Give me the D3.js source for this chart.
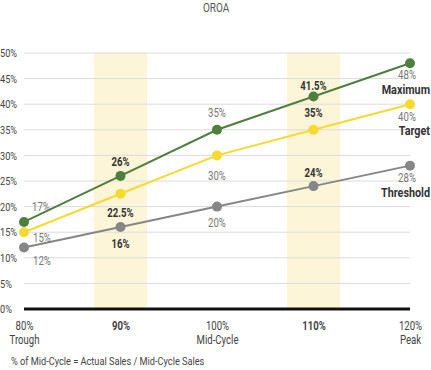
<!DOCTYPE html>
<html>
<head>
<meta charset="utf-8">
<script src="https://cdn.jsdelivr.net/npm/d3@7"></script>
<style>
  body { margin: 0; background: #fff; }
  svg text {
    font-family: "Roboto", sans-serif;
    transform-box: fill-box;
    transform: scaleX(0.8);
    transform-origin: center;
  }
  svg text.s { transform-origin: left center; }
  svg text.e { transform-origin: right center; }
</style>
</head>
<body>
<div id="chart"></div>
<script>
// Data
const categories = ["80%", "90%", "100%", "110%", "120%"];
const subLabels = ["Trough", "", "Mid-Cycle", "", "Peak"];
const highlighted = ["90%", "110%"];
const yTicks = [0, 5, 10, 15, 20, 25, 30, 35, 40, 45, 50];
const maximum = [17, 26, 35, 41.5, 48];
const target = [15, 22.5, 30, 35, 40];
const threshold = [12, 16, 20, 24, 28];
const seriesNames = ["Maximum", "Target", "Threshold"];

const chart = {
  margin: { top: 53, right: 21, bottom: 61, left: 24 },
  width: 431,
  height: 370
};
const innerW = chart.width - chart.margin.left - chart.margin.right;
const innerH = chart.height - chart.margin.top - chart.margin.bottom;

const svg = d3.select("#chart")
  .append("svg")
  .attr("width", chart.width)
  .attr("height", chart.height);

const g = svg.append("g")
  .attr("transform", "translate(" + chart.margin.left + "," + chart.margin.top + ")");

// Scales
const x = d3.scalePoint()
  .domain(categories)
  .range([0, innerW]);

const y = d3.scaleLinear()
  .domain([0, 50])
  .range([innerH, 0]);

// Title
svg.append("text")
  .attr("x", 216)
  .attr("y", 12)
  .attr("text-anchor", "middle")
  .attr("font-size", "12.5px")
  .attr("fill", "#555")
  .text("OROA");

// Highlight bands
g.selectAll(".band")
  .data(highlighted)
  .enter()
  .append("rect")
  .attr("class", "band")
  .attr("x", d => x(d) - 26.5)
  .attr("y", y(50))
  .attr("width", 53)
  .attr("height", innerH)
  .attr("fill", "#fcf5d7");

// Gridlines
g.selectAll(".grid")
  .data(yTicks.filter(d => d > 0))
  .enter()
  .append("line")
  .attr("class", "grid")
  .attr("x1", 0)
  .attr("x2", innerW)
  .attr("y1", d => y(d))
  .attr("y2", d => y(d))
  .attr("stroke", "#dcdcdc")
  .attr("stroke-width", 1);

// Y axis labels
const yAxis = g.append("g")
  .call(d3.axisLeft(y).tickValues(yTicks).tickFormat(d => d + "%").tickSize(0));
yAxis.select(".domain").remove();
yAxis.selectAll("text")
  .attr("class", "s")
  .attr("font-size", "11.5px")
  .attr("fill", "#444")
  .attr("font-family", null)
  .attr("text-anchor", "start")
  .attr("x", -24);

// Baseline
g.append("line")
  .attr("x1", 0)
  .attr("x2", innerW)
  .attr("y1", y(0))
  .attr("y2", y(0))
  .attr("stroke", "#111")
  .attr("stroke-width", 3);

// X axis labels
const xAxis = g.append("g")
  .attr("transform", "translate(0," + innerH + ")")
  .call(d3.axisBottom(x).tickSize(0).tickPadding(0));
xAxis.select(".domain").remove();
xAxis.selectAll("text")
  .attr("y", 21)
  .attr("dy", null)
  .attr("font-size", "12px")
  .attr("fill", "#444")
  .attr("font-family", null)
  .attr("font-weight", d => highlighted.includes(d) ? "bold" : "normal");
xAxis.selectAll(".tick")
  .append("text")
  .attr("y", 35)
  .attr("text-anchor", "middle")
  .attr("font-size", "12px")
  .attr("fill", "#444")
  .text((d, i) => subLabels[i]);

// Lines and points
const series = [
  { name: seriesNames[0], values: maximum, color: "#4e7f3f" },
  { name: seriesNames[1], values: target, color: "#f8d930" },
  { name: seriesNames[2], values: threshold, color: "#868686" }
];

const line = d3.line()
  .x((d, i) => x(categories[i]))
  .y(d => y(d));

series.forEach(s => {
  g.append("path")
    .datum(s.values)
    .attr("d", line)
    .attr("fill", "none")
    .attr("stroke", s.color)
    .attr("stroke-width", 2);

  g.selectAll(".pt-" + s.name)
    .data(s.values)
    .enter()
    .append("circle")
    .attr("cx", (d, i) => x(categories[i]))
    .attr("cy", d => y(d))
    .attr("r", 5)
    .attr("fill", s.color);
});

// Value label offsets (dx, baseline dy) per series and category
const labelPos = [
  [[17, -11], [0, -10], [0, -13], [0, -7], [-3, 16]],
  [[18, 10], [0, 23], [0, 25], [0, -13], [-3, 17]],
  [[18, 17.5], [0, 21], [0, 20], [0, -9], [-3, 16]]
];

series.forEach((s, si) => {
  g.selectAll(".lbl-" + s.name)
    .data(s.values)
    .enter()
    .append("text")
    .attr("x", (d, i) => x(categories[i]) + labelPos[si][i][0])
    .attr("y", (d, i) => y(d) + labelPos[si][i][1])
    .attr("text-anchor", "middle")
    .attr("font-size", "12px")
    .attr("font-weight", (d, i) => highlighted.includes(categories[i]) ? "bold" : "normal")
    .attr("fill", (d, i) => highlighted.includes(categories[i]) ? "#333" : "#777")
    .text(d => d + "%");

  // Series names at the right end
  g.append("text")
    .attr("class", "e")
    .attr("x", chart.width - chart.margin.left - 1)
    .attr("y", y(s.values[4]) + 31)
    .attr("text-anchor", "end")
    .attr("font-size", "13.5px")
    .attr("font-weight", "bold")
    .attr("fill", "#333")
    .text(s.name);
});

// Footnote
svg.append("text")
  .attr("class", "s")
  .attr("x", 11)
  .attr("y", 365)
  .attr("font-size", "11.5px")
  .attr("fill", "#444")
  .text("% of Mid-Cycle = Actual Sales / Mid-Cycle Sales");
</script>
</body>
</html>
